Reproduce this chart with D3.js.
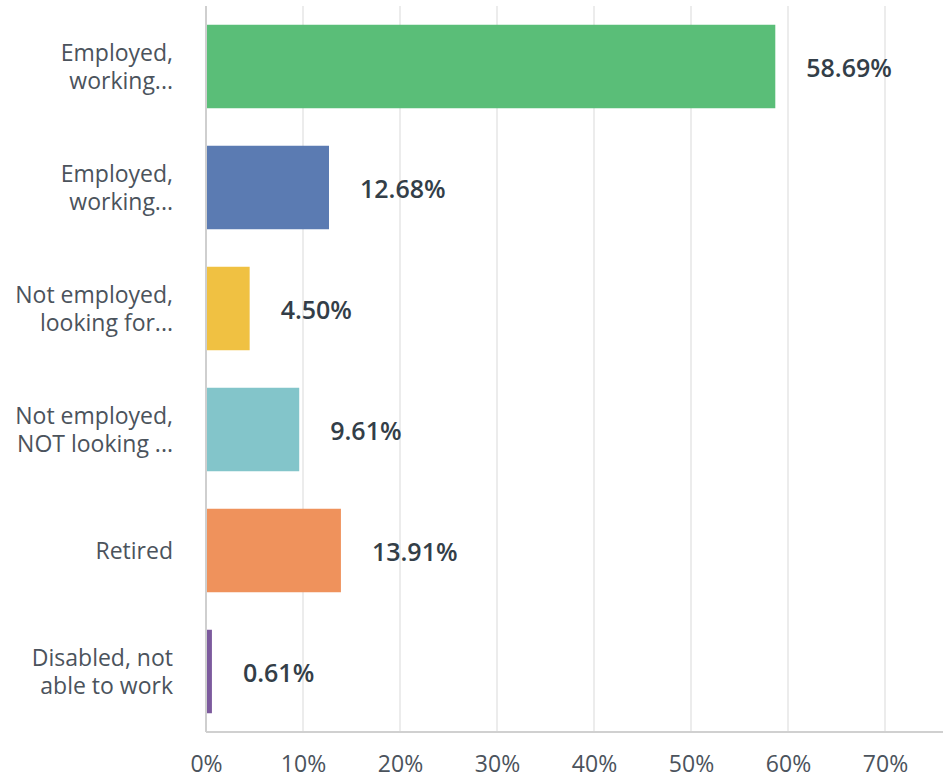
<!DOCTYPE html>
<html>
<head>
<meta charset="utf-8">
<script src="https://cdn.jsdelivr.net/npm/d3@7"></script>
<style>
html,body{margin:0;padding:0;background:#fff;}
svg{display:block;}
</style>
</head>
<body>
<svg id="chart" width="943" height="780"></svg>
<script>
const categories = [
  ["Employed,", "working..."],
  ["Employed,", "working..."],
  ["Not employed,", "looking for..."],
  ["Not employed,", "NOT looking ..."],
  ["Retired"],
  ["Disabled, not", "able to work"]
];
const values = [58.69, 12.68, 4.50, 9.61, 13.91, 0.61];
const colors = ["#5abe78", "#5b7bb2", "#f0c142", "#83c5ca", "#ef925c", "#7c5a9d"];
const tickValues = [0, 10, 20, 30, 40, 50, 60, 70];

(function () {
const svg = d3.select("#chart");
const W = 943;
const pLeft = 206, pRight = 885, pTop = 6, pBottom = 732;
const font = "'Open Sans', 'Noto Sans', sans-serif";

const x = d3.scaleLinear().domain([0, 70]).range([pLeft, pRight]);
const y = d3.scaleBand().domain(d3.range(values.length)).range([pTop, pBottom]).paddingInner(0.31).paddingOuter(0.155);

// gridlines
svg.append("g").selectAll("line").data(tickValues.filter(t => t > 0)).join("line")
  .attr("x1", d => x(d)).attr("x2", d => x(d))
  .attr("y1", pTop).attr("y2", pBottom)
  .attr("stroke", "#e6e6e6").attr("stroke-width", 1.5);

// bottom axis
const xAxis = d3.axisBottom(x).tickValues(tickValues).tickFormat(d => d + "%").tickSize(0).tickPadding(24);
const gx = svg.append("g").attr("transform", `translate(0,${pBottom})`).call(xAxis);
gx.select(".domain").remove();
gx.selectAll("text").attr("font-family", font).attr("font-size", 23).attr("fill", "#4b535c");
svg.append("line").attr("x1", pLeft).attr("x2", W).attr("y1", pBottom).attr("y2", pBottom)
  .attr("stroke", "#d0d0d0").attr("stroke-width", 2);

// bars
svg.append("g").selectAll("rect").data(values).join("rect")
  .attr("x", x(0)).attr("y", (d, i) => y(i))
  .attr("width", d => x(d) - x(0)).attr("height", y.bandwidth())
  .attr("fill", (d, i) => colors[i]);

// vertical axis line
svg.append("line").attr("x1", pLeft).attr("x2", pLeft).attr("y1", pTop).attr("y2", pBottom)
  .attr("stroke", "#cfcfcf").attr("stroke-width", 2);

// category labels
const lh = 28;
svg.append("g").selectAll("text").data(categories).join("text")
  .attr("text-anchor", "end")
  .attr("font-family", font).attr("font-size", 23).attr("fill", "#4b535c")
  .each(function(lines, i) {
    const cy = y(i) + y.bandwidth() / 2;
    const t = d3.select(this);
    const n = lines.length;
    lines.forEach((ln, k) => {
      t.append("tspan").attr("x", 173)
        .attr("y", cy + (k - (n - 1) / 2) * lh)
        .attr("dy", "0.35em").text(ln);
    });
  });

// value labels
svg.append("g").selectAll("text").data(values).join("text")
  .attr("x", d => x(d) + 31)
  .attr("y", (d, i) => y(i) + y.bandwidth() / 2)
  .attr("dy", "0.4em")
  .attr("font-family", font).attr("font-size", 25).attr("font-weight", 600)
  .attr("fill", "#333e48")
  .text(d => d.toFixed(2) + "%");
})();
</script>
</body>
</html>
